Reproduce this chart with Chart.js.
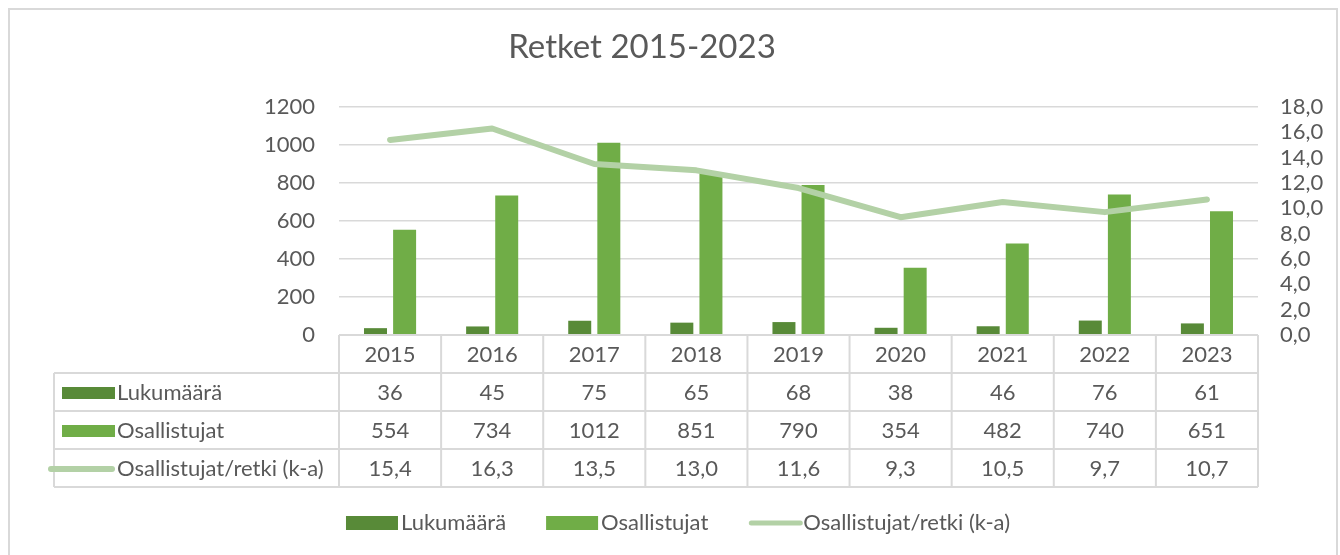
<!DOCTYPE html>
<html>
<head>
<meta charset="utf-8">
<script src="https://cdn.jsdelivr.net/npm/chart.js@4.4.1/dist/chart.umd.min.js"></script>
<style>
  body { margin: 0; background: #fff; }
  .frame { position: absolute; left: 8px; top: 8px; width: 1330px; height: 600px; box-sizing: border-box; border: 2px solid #D9D9D9; }
  #wrap { position: absolute; left: 0; top: 0; width: 1340px; height: 555px; }
</style>
</head>
<body>
<div class="frame"></div>
<div id="wrap"><canvas id="retketChart" width="1340" height="555"></canvas></div>
<script>
const title = 'Retket 2015-2023';
const years = ['2015', '2016', '2017', '2018', '2019', '2020', '2021', '2022', '2023'];
const lukumaara = [36, 45, 75, 65, 68, 38, 46, 76, 61];
const osallistujat = [554, 734, 1012, 851, 790, 354, 482, 740, 651];
const perRetki = [15.4, 16.3, 13.5, 13.0, 11.6, 9.3, 10.5, 9.7, 10.7];
const leftAxis = { min: 0, max: 1200, step: 200 };
const rightAxis = { min: 0, max: 18, step: 2 };

const textColor = '#595959';
const gridColor = '#D9D9D9';
const fontFamily = 'Lato, "Noto Sans", sans-serif';
const textSize = 22;

const fmt1 = v => v.toFixed(1).replace('.', ',');

// title drawn by hand so it can sit a bit left of the canvas centre like the original
const titlePlugin = {
    id: 'titleText',
    afterDraw(chart) {
        const ctx = chart.ctx;
        ctx.save();
        ctx.font = '33px ' + fontFamily;
        ctx.fillStyle = textColor;
        ctx.textAlign = 'center';
        ctx.textBaseline = 'middle';
        ctx.fillText(title, 642, 47);
        ctx.restore();
    }
};

// data table under the plot, columns follow the x scale
const tablePlugin = {
    id: 'dataTable',
    afterDraw(chart) {
        const ctx = chart.ctx;
        const x = chart.scales.x;
        const area = chart.chartArea;
        const band = x.getPixelForValue(1) - x.getPixelForValue(0);
        const rowH = 38;
        const tableLeft = 54;
        const top = area.bottom;
        const rows = chart.data.datasets.length;
        const bottom = top + rowH * (rows + 1);

        ctx.save();
        ctx.strokeStyle = gridColor;
        ctx.lineWidth = 2;
        ctx.beginPath();
        // horizontal lines
        ctx.moveTo(area.left, top);
        ctx.lineTo(area.right, top);
        for (let r = 1; r <= rows + 1; r++) {
            ctx.moveTo(tableLeft, top + r * rowH);
            ctx.lineTo(area.right, top + r * rowH);
        }
        // vertical lines
        ctx.moveTo(tableLeft, top + rowH);
        ctx.lineTo(tableLeft, bottom);
        for (let i = 0; i <= years.length; i++) {
            const ex = x.getPixelForValue(0) - band / 2 + i * band;
            ctx.moveTo(ex, top);
            ctx.lineTo(ex, bottom);
        }
        ctx.stroke();

        ctx.font = textSize + 'px ' + fontFamily;
        ctx.fillStyle = textColor;
        ctx.textBaseline = 'middle';
        ctx.textAlign = 'center';
        years.forEach((y, i) => {
            ctx.fillText(y, x.getPixelForValue(i), top + rowH / 2 + 1);
        });

        chart.data.datasets.forEach((ds, r) => {
            const cy = top + rowH * (r + 1) + rowH / 2 + 1;
            if (ds.type === 'line') {
                ctx.strokeStyle = ds.borderColor;
                ctx.lineWidth = 6;
                ctx.lineCap = 'round';
                ctx.beginPath();
                ctx.moveTo(51, cy);
                ctx.lineTo(112, cy);
                ctx.stroke();
            } else {
                ctx.fillStyle = ds.backgroundColor;
                ctx.fillRect(62, cy - 6, 53, 12);
            }
            ctx.fillStyle = textColor;
            ctx.textAlign = 'left';
            ctx.fillText(ds.label, 117, cy);
            ctx.textAlign = 'center';
            ds.data.forEach((v, i) => {
                const txt = ds.type === 'line' ? fmt1(v) : String(v);
                ctx.fillText(txt, x.getPixelForValue(i), cy);
            });
        });
        ctx.restore();
    }
};

// legend row at the bottom
const legendPlugin = {
    id: 'bottomLegend',
    afterDraw(chart) {
        const ctx = chart.ctx;
        const cy = 523;
        const keyW = 52, gapText = 3, gapItem = 40;
        ctx.save();
        ctx.font = textSize + 'px ' + fontFamily;
        const items = chart.data.datasets.map(ds => ({ ds, w: ctx.measureText(ds.label).width }));
        const total = items.reduce((s, it) => s + keyW + gapText + it.w, 0) + gapItem * (items.length - 1);
        let px = 678 - total / 2;
        items.forEach(({ ds, w }) => {
            if (ds.type === 'line') {
                ctx.strokeStyle = ds.borderColor;
                ctx.lineWidth = 5;
                ctx.lineCap = 'round';
                ctx.beginPath();
                ctx.moveTo(px + 3, cy);
                ctx.lineTo(px + keyW, cy);
                ctx.stroke();
            } else {
                ctx.fillStyle = ds.backgroundColor;
                ctx.fillRect(px, cy - 7, keyW, 14);
            }
            px += keyW + gapText;
            ctx.fillStyle = textColor;
            ctx.textAlign = 'left';
            ctx.textBaseline = 'middle';
            ctx.fillText(ds.label, px, cy);
            px += w + gapItem;
        });
        ctx.restore();
    }
};

Chart.defaults.font.family = fontFamily;
Chart.defaults.color = textColor;

const ctx = document.getElementById('retketChart').getContext('2d');
new Chart(ctx, {
    type: 'bar',
    data: {
        labels: years,
        datasets: [
            {
                label: 'Lukumäärä',
                data: lukumaara,
                backgroundColor: '#588A38',
                yAxisID: 'y',
                order: 1,
                categoryPercentage: 0.57,
                barPercentage: 0.79
            },
            {
                label: 'Osallistujat',
                data: osallistujat,
                backgroundColor: '#70AD47',
                yAxisID: 'y',
                order: 1,
                categoryPercentage: 0.57,
                barPercentage: 0.79
            },
            {
                type: 'line',
                label: 'Osallistujat/retki (k-a)',
                data: perRetki,
                borderColor: '#B3D1A6',
                backgroundColor: '#B3D1A6',
                borderWidth: 6,
                borderCapStyle: 'round',
                borderJoinStyle: 'round',
                pointRadius: 0,
                tension: 0,
                yAxisID: 'y1',
                order: 0
            }
        ]
    },
    options: {
        responsive: false,
        animation: false,
        layout: { padding: { left: 0, right: 0, top: 107, bottom: 220 } },
        plugins: {
            legend: { display: false },
            title: { display: false },
            tooltip: { enabled: false }
        },
        scales: {
            x: { display: false },
            y: {
                position: 'left',
                min: leftAxis.min,
                max: leftAxis.max,
                ticks: { stepSize: leftAxis.step, padding: 24, color: textColor, font: { size: textSize }, callback: v => String(v) },
                grid: { color: gridColor, lineWidth: 1.5, drawTicks: false },
                border: { display: false },
                afterFit(scale) { scale.width = 339; }
            },
            y1: {
                position: 'right',
                min: rightAxis.min,
                max: rightAxis.max,
                ticks: { stepSize: rightAxis.step, autoSkip: false, padding: 22, color: textColor, font: { size: textSize }, callback: v => fmt1(v) },
                grid: { display: false, drawTicks: false },
                border: { display: false },
                afterFit(scale) { scale.width = 82; }
            }
        }
    },
    plugins: [titlePlugin, tablePlugin, legendPlugin]
});
</script>
</body>
</html>
